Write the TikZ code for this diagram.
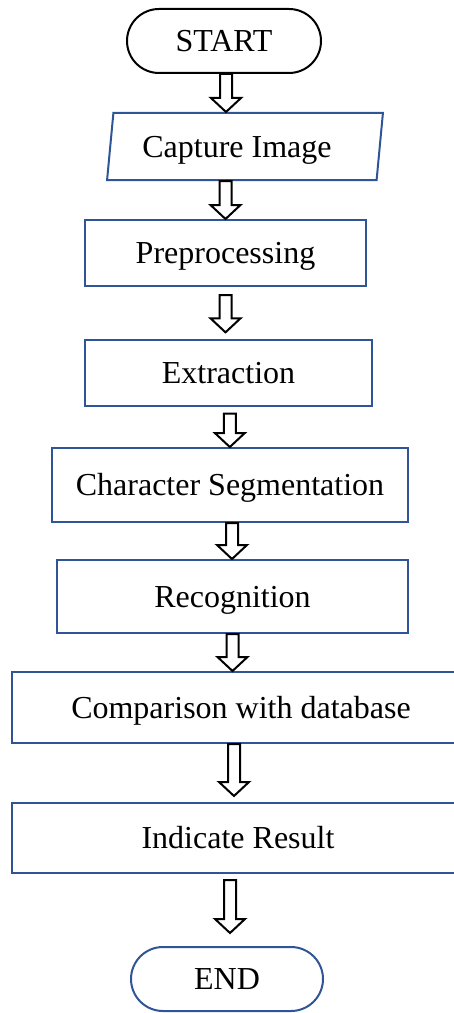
\documentclass[tikz,border=0pt]{standalone}
\usepackage{fontspec}
\setmainfont{Liberation Serif}
\usetikzlibrary{shapes.geometric,calc}
\definecolor{boxblue}{RGB}{47,85,151}
\tikzset{
  stepbox/.style={draw=boxblue, line width=1.5pt, inner sep=0pt, align=center,
    text height=16pt, text depth=0pt, font=\fontsize{24}{28}\selectfont},
  % hollow block arrow straight down from the start point
  blockarrow/.style={draw=black, line width=1.5pt, to path={
    let \p1=(\tikztostart), \p2=(\tikztotarget) in
    (\x1-4.5pt,\y1) -- (\x1-4.5pt,\y2+10.5pt) -- (\x1-11.25pt,\y2+10.5pt) -- (\x1,\y2)
    -- (\x1+11.25pt,\y2+10.5pt) -- (\x1+4.5pt,\y2+10.5pt) -- (\x1+4.5pt,\y1) -- cycle}}
}
\begin{document}
\begin{tikzpicture}[x=0.75pt,y=-0.75pt]
  \useasboundingbox (0,0) rectangle (453,1013);
  \node[stepbox, draw=black, rounded corners=24pt, minimum width=145.5pt, minimum height=48pt] (start) at (224,41) {START};
  \node[stepbox, trapezium, trapezium left angle=77, trapezium right angle=103, trapezium stretches=true,
        minimum width=207pt, minimum height=50.25pt] (capture) at (245,146.5) {Capture Image\hspace*{12pt}};
  \node[stepbox, minimum width=210.75pt, minimum height=49.5pt] (pre) at (225.5,253) {Preprocessing};
  \node[stepbox, minimum width=215.25pt, minimum height=49.5pt] (ext) at (228.5,373) {Extraction};
  \node[stepbox, minimum width=267pt, minimum height=55.5pt] (seg) at (230,485) {Character Segmentation};
  \node[stepbox, minimum width=263.25pt, minimum height=54.75pt] (rec) at (232.5,596.5) {Recognition};
  \node[stepbox, minimum width=343.5pt, minimum height=53.25pt] (cmp) at (241,707.5) {Comparison with database};
  \node[stepbox, minimum width=339pt, minimum height=52.5pt] (res) at (238,838) {Indicate Result};
  \node[stepbox, rounded corners=24pt, minimum width=144pt, minimum height=48pt] (stop) at (227,979) {END};

  \draw[blockarrow] ([xshift=1.5pt]start.south) to (capture.north);
  \draw[blockarrow] (pre.north |- capture.south) to (pre.north);
  \draw[blockarrow] ([yshift=-6pt]pre.south) to ([yshift=5pt]ext.north);
  \draw[blockarrow] ([xshift=1pt,yshift=-5pt]ext.south) to (seg.north);
  \draw[blockarrow] ([xshift=1.5pt]seg.south) to (rec.north);
  \draw[blockarrow] (rec.south) to (cmp.north);
  \draw[blockarrow] ([xshift=-5.25pt]cmp.south) to ([yshift=4.5pt]res.north);
  \draw[blockarrow] ([xshift=-6pt,yshift=-4.5pt]res.south) to ([yshift=9.75pt]stop.north);
\end{tikzpicture}
\end{document}
